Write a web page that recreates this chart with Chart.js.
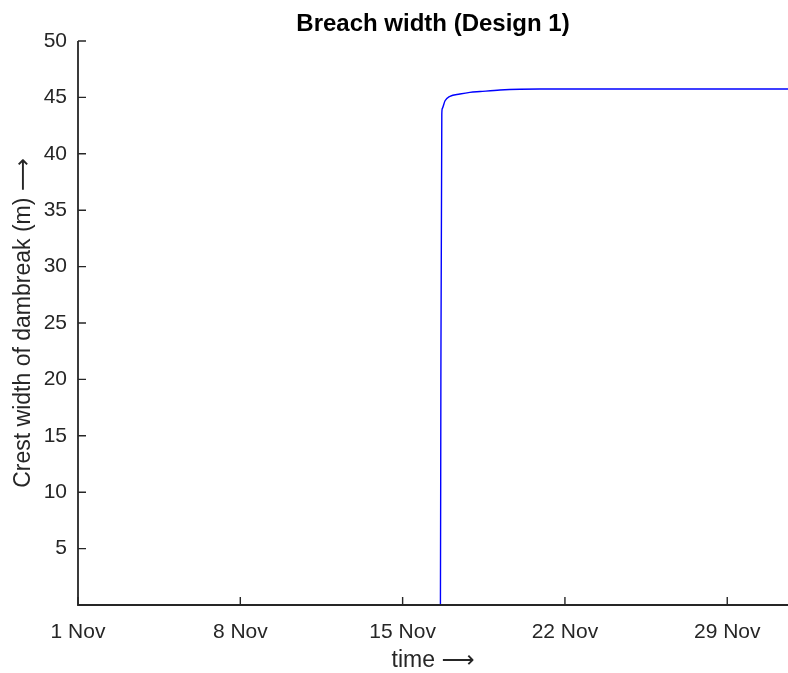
<!DOCTYPE html>
<html>
<head>
<meta charset="utf-8">
<title>Breach width (Design 1)</title>
<script src="https://cdn.jsdelivr.net/npm/chart.js@4.4.1/dist/chart.umd.min.js"></script>
<style>
  html, body { margin: 0; padding: 0; background: #ffffff; }
  #wrap { width: 788px; height: 673px; position: relative; }
</style>
</head>
<body>
<div id="wrap"><canvas id="chart"></canvas></div>
<script>
// Time in days since 1 Nov 00:00
const timeDays = [0, 15.63, 15.65, 15.69, 15.71, 15.83, 16.04, 16.47, 16.90, 17.34, 18.20, 19.06, 19.92, 30.62];
// Crest width of the breach (m)
const crestWidth = [0, 0, 20, 43.5, 44.0, 44.7, 45.1, 45.3, 45.45, 45.52, 45.65, 45.72, 45.74, 45.75];

const xTickDays = [0, 7, 14, 21, 28];
const xTickLabels = ['1 Nov', '8 Nov', '15 Nov', '22 Nov', '29 Nov'];
const yTickValues = [5, 10, 15, 20, 25, 30, 35, 40, 45, 50];
const xRange = [0, 30.62];
const yRange = [0, 50];

const FONT = "'Liberation Sans', Arial, Helvetica, 'DejaVu Sans', sans-serif";
const AXIS_COLOR = '#262626';

// Axis lines and inward-pointing ticks, drawn on top of the data
const axesOnTop = {
  id: 'axesOnTop',
  afterDatasetsDraw(chart) {
    const { ctx, chartArea: a, scales } = chart;
    const len = 8;
    ctx.save();
    ctx.strokeStyle = AXIS_COLOR;
    ctx.lineWidth = 1.8;
    ctx.beginPath();
    ctx.moveTo(a.left, a.top);
    ctx.lineTo(a.left, a.bottom);
    ctx.lineTo(a.right, a.bottom);
    ctx.stroke();
    ctx.lineWidth = 1.4;
    ctx.beginPath();
    scales.y.ticks.forEach(t => {
      const py = scales.y.getPixelForValue(t.value);
      ctx.moveTo(a.left, py);
      ctx.lineTo(a.left + len, py);
    });
    scales.x.ticks.forEach(t => {
      const px = scales.x.getPixelForValue(t.value);
      ctx.moveTo(px, a.bottom);
      ctx.lineTo(px, a.bottom - len);
    });
    ctx.stroke();
    ctx.restore();
  }
};

new Chart(document.getElementById('chart'), {
  type: 'line',
  data: {
    datasets: [{
      data: timeDays.map((t, i) => ({ x: t, y: crestWidth[i] })),
      borderColor: '#0000ff',
      borderWidth: 1.4,
      pointRadius: 0,
      fill: false,
      cubicInterpolationMode: 'monotone'
    }]
  },
  options: {
    responsive: true,
    maintainAspectRatio: false,
    animation: false,
    layout: { padding: 0 },
    plugins: {
      legend: { display: false },
      tooltip: { enabled: false },
      title: {
        display: true,
        text: 'Breach width (Design 1)',
        fullSize: false,
        color: '#000000',
        font: { family: FONT, size: 24, weight: 'bold', lineHeight: 1.2 },
        padding: { top: 9.6, bottom: 2.6 }
      }
    },
    scales: {
      x: {
        type: 'linear',
        min: xRange[0],
        max: xRange[1],
        grid: { display: false, drawTicks: false },
        border: { display: false },
        afterBuildTicks(scale) {
          scale.ticks = xTickDays.map(v => ({ value: v }));
        },
        afterFit(scale) { scale.height = 68; },
        ticks: {
          autoSkip: false,
          maxRotation: 0,
          padding: 15,
          color: AXIS_COLOR,
          font: { family: FONT, size: 21 },
          callback(value) {
            const i = xTickDays.indexOf(value);
            return i >= 0 ? xTickLabels[i] : '';
          }
        },
        title: {
          display: true,
          text: 'time \u27F6',
          color: AXIS_COLOR,
          font: { family: FONT, size: 23, lineHeight: 1.0 },
          padding: { top: 0, bottom: 0.5 }
        }
      },
      y: {
        type: 'linear',
        min: yRange[0],
        max: yRange[1],
        grid: { display: false, drawTicks: false },
        border: { display: false },
        afterBuildTicks(scale) {
          scale.ticks = yTickValues.map(v => ({ value: v }));
        },
        afterFit(scale) { scale.width = 78; },
        ticks: {
          autoSkip: false,
          padding: 11,
          color: AXIS_COLOR,
          font: { family: FONT, size: 21 }
        },
        title: {
          display: true,
          text: 'Crest width of dambreak (m) \u27F6',
          color: AXIS_COLOR,
          font: { family: FONT, size: 23, lineHeight: 1.2 },
          padding: { top: 10, bottom: 0 }
        }
      }
    }
  },
  plugins: [axesOnTop]
});
</script>
</body>
</html>
